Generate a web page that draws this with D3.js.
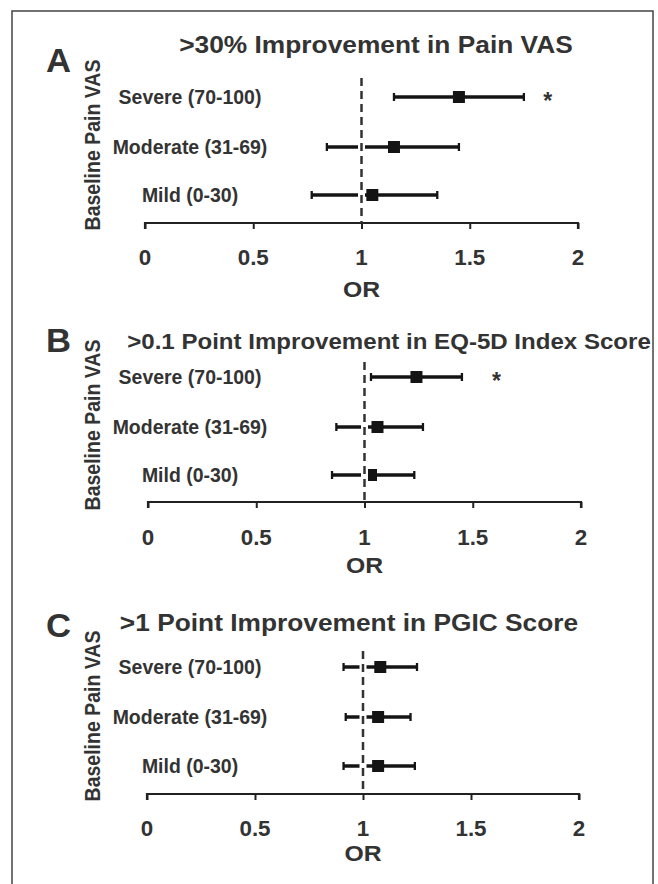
<!DOCTYPE html>
<html>
<head>
<meta charset="utf-8">
<script src="https://cdn.jsdelivr.net/npm/d3@7"></script>
<style>
  html, body { margin: 0; padding: 0; background: #fff; }
  svg text { font-family: "Liberation Sans", Arial, sans-serif; font-weight: bold; }
</style>
</head>
<body>
<svg id="chart" width="658" height="884"></svg>
<script>
// categories (top to bottom)
var categories = ['Severe (70-100)', 'Moderate (31-69)', 'Mild (0-30)'];
var tickValues = [0, 0.5, 1, 1.5, 2];
var panelLetters = ['A', 'B', 'C'];
var panelTitles = [
  '>30% Improvement in Pain VAS',
  '>0.1 Point Improvement in EQ-5D Index Score',
  '>1 Point Improvement in PGIC Score'
];

// odds ratios and 95% CI per panel (Severe, Moderate, Mild)
var orA = [1.45, 1.15, 1.05];
var lowA = [1.15, 0.84, 0.77];
var highA = [1.75, 1.45, 1.35];

var orB = [1.24, 1.06, 1.03];
var lowB = [1.03, 0.87, 0.85];
var highB = [1.45, 1.27, 1.23];

var orC = [1.08, 1.07, 1.07];
var lowC = [0.91, 0.92, 0.91];
var highC = [1.25, 1.22, 1.24];

// significance markers: [panel, category index, OR position of the asterisk]
var stars = [[0, 0, 1.86], [1, 0, 1.61]];

var panelData = [[orA, lowA, highA], [orB, lowB, highB], [orC, lowC, highC]];

var textColor = '#333';
var markColor = '#141414';

// layout of each panel
var layouts = [
  { letterY: 72, titleX: 376, titleY: 53, titleSize: 23.5, rows: [97, 147, 195], axisY: 223,
    x0: 145, x1: 578, dashTop: 78, tickY: 265, orY: 297, labelY: 145 },
  { letterY: 352, titleX: 389, titleY: 349, titleSize: 21.5, rows: [377, 427, 475], axisY: 502,
    x0: 148, x1: 581, dashTop: 362, tickY: 545, orY: 573, labelY: 425 },
  { letterY: 637, titleX: 349, titleY: 631, titleSize: 23.5, rows: [667, 717, 766], axisY: 794,
    x0: 147, x1: 579, dashTop: 651, tickY: 836, orY: 861, labelY: 716 }
];

var svg = d3.select('#chart');

// outer frame (runs off the bottom)
svg.append('rect')
  .attr('x', 12)
  .attr('y', 11)
  .attr('width', 641)
  .attr('height', 920)
  .attr('fill', '#fff')
  .attr('stroke', '#444')
  .attr('stroke-width', 1.5);

/**
 * Appends a text at x, y, stretched horizontally by sx
 * (the source lettering is not quite Arial proportions).
 */
function addText(g, x, y, str, size, anchor, sx, rotate) {
  var t = 'translate(' + x + ',' + y + ') scale(' + sx + ',1)';
  if (rotate) t += ' rotate(-90)';
  return g.append('text')
    .attr('transform', t)
    .attr('text-anchor', anchor)
    .attr('fill', textColor)
    .style('font-size', size + 'px')
    .text(str);
}

layouts.forEach(function (L, p) {
  var g = svg.append('g');
  var or = panelData[p][0], low = panelData[p][1], high = panelData[p][2];

  var x = d3.scaleLinear().domain([0, 2]).range([L.x0, L.x1]);
  var y = d3.scaleOrdinal().domain(categories).range(L.rows);

  // panel letter and title
  addText(g, 46, L.letterY, panelLetters[p], 33, 'start', 1.05);
  addText(g, L.titleX, L.titleY, panelTitles[p], L.titleSize, 'middle', 1.12);

  // y axis label
  addText(g, 100, L.labelY, 'Baseline Pain VAS', 19.5, 'middle', 1.1, true);

  // category labels
  categories.forEach(function (c) {
    addText(g, 190, y(c) + 6.5, c, 20.5, 'middle', 0.95);
  });

  // x axis
  var axis = g.append('g')
    .attr('transform', 'translate(0,' + L.axisY + ')')
    .call(d3.axisBottom(x).tickValues(tickValues).tickSize(6).tickFormat(''));
  axis.select('.domain')
    .attr('d', 'M' + L.x0 + ',6V0H' + L.x1 + 'V6')
    .attr('stroke', '#222')
    .attr('stroke-width', 2.2);
  axis.selectAll('.tick line')
    .attr('stroke', '#222')
    .attr('stroke-width', 2);

  tickValues.forEach(function (v) {
    addText(g, x(v), L.tickY, d3.format('')(v), 21.5, 'middle', 1.04);
  });
  addText(g, x(1), L.orY, 'OR', 22.5, 'middle', 1.1);

  // error bars
  var rows = g.selectAll('.row')
    .data(categories)
    .enter()
    .append('g')
    .classed('row', true);

  rows.append('line')
    .attr('x1', function (d, i) { return x(low[i]); })
    .attr('x2', function (d, i) { return x(high[i]); })
    .attr('y1', function (d) { return y(d); })
    .attr('y2', function (d) { return y(d); })
    .attr('stroke', markColor)
    .attr('stroke-width', 3.3);

  [low, high].forEach(function (arr) {
    rows.append('line')
      .attr('x1', function (d, i) { return x(arr[i]); })
      .attr('x2', function (d, i) { return x(arr[i]); })
      .attr('y1', function (d) { return y(d) - 4; })
      .attr('y2', function (d) { return y(d) + 4; })
      .attr('stroke', markColor)
      .attr('stroke-width', 2.3);
  });

  rows.append('rect')
    .attr('x', function (d, i) { return x(or[i]) - 6; })
    .attr('y', function (d) { return y(d) - 6; })
    .attr('width', 12)
    .attr('height', 12)
    .attr('fill', markColor);

  // white band behind the reference line cuts the bars
  g.append('line')
    .attr('x1', x(1))
    .attr('x2', x(1))
    .attr('y1', L.dashTop)
    .attr('y2', L.axisY - 2)
    .attr('stroke', '#fff')
    .attr('stroke-width', 7);

  // dashed reference line at OR = 1
  g.append('line')
    .attr('x1', x(1))
    .attr('x2', x(1))
    .attr('y1', L.dashTop)
    .attr('y2', L.axisY)
    .attr('stroke', '#333')
    .attr('stroke-width', 2.5)
    .attr('stroke-dasharray', '8,5');

  // significance asterisks
  stars.filter(function (s) { return s[0] === p; }).forEach(function (s) {
    addText(g, x(s[2]), y(categories[s[1]]) + 12, '*', 23, 'middle', 1);
  });
});
</script>
</body>
</html>
